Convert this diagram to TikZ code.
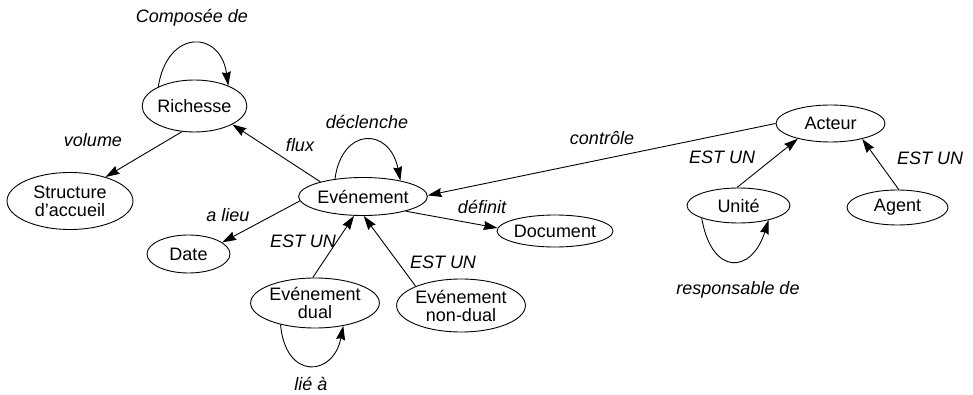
\documentclass[tikz,border=0pt]{standalone}
\usepackage{fontspec}
\setmainfont{Liberation Sans}
\usetikzlibrary{shapes.geometric,arrows.meta}
\begin{document}
\begin{tikzpicture}[x=1pt,y=-1pt,
  ent/.style={draw,ellipse,line width=0.9pt,inner sep=0pt,align=center,font=\fontsize{18}{18}\selectfont},
  lbl/.style={font=\fontsize{18}{20}\selectfont\itshape,inner sep=0pt},
  rel/.style={line width=0.9pt,-{Stealth[length=14pt,width=9pt,inset=1.5pt]}}]
\useasboundingbox (0,0) rectangle (973,395);
% entities
\node[ent,minimum width=103pt,minimum height=52pt] (rich) at (194.5,106) {Richesse};
\node[ent,minimum width=126pt,minimum height=57pt] (struct) at (70,201) {Structure\\d’accueil};
\node[ent,minimum width=83pt,minimum height=38pt] (date) at (188.5,254) {Date};
\node[ent,minimum width=120pt,minimum height=38pt] (even) at (363,196.5) {Evénement};
\node[ent,minimum width=120pt,minimum height=50pt] (dual) at (315,303) {Evénement\\dual};
\node[ent,minimum width=118pt,minimum height=53pt] (nondual) at (461,305.5) {Evénement\\non-dual};
\node[ent,minimum width=110pt,minimum height=32pt] (doc) at (555,231) {Document};
\node[ent,minimum width=109pt,minimum height=37pt] (acteur) at (830.5,123.5) {Acteur};
\node[ent,minimum width=103pt,minimum height=35pt] (unite) at (738.5,205.5) {Unité};
\node[ent,minimum width=101pt,minimum height=35pt] (agent) at (897.5,207.5) {Agent};
% labels
\node[lbl] (l1) at (192,18) {Composée de};
\node[lbl] (l2) at (93,140) {volume};
\node[lbl] (l3) at (300,145) {flux};
\node[lbl] (l4) at (367,122) {déclenche};
\node[lbl] (l5) at (228,215) {a lieu};
\node[lbl] (l6) at (303,241) {EST UN};
\node[lbl] (l7) at (443,262) {EST UN};
\node[lbl] (l8) at (482,207) {définit};
\node[lbl] (l9) at (311,384) {lié à};
\node[lbl] (l10) at (602,138) {contrôle};
\node[lbl] (l11) at (722,157) {EST UN};
\node[lbl] (l12) at (930,158) {EST UN};
\node[lbl] (l13) at (738,290) {responsable de};
% connectors
\draw[rel] (rich.152) .. controls +(9,-58) and +(-8,-56) .. (rich.31);
\draw[rel] (rich.-116) -- (struct.34);
\draw[rel] (even.161) -- (rich.-26);
\draw[rel] (even.148) .. controls +(7,-52) and +(-11,-54) .. (even.23);
\draw[rel] (even.-176) -- (date.19);
\draw[rel] (dual.95) -- (even.-115);
\draw[rel] (nondual.157) -- (even.-88);
\draw[rel] (even.-19) -- (doc.177);
\draw[rel] (dual.-148) .. controls +(5,56) and +(-10,51) .. (dual.-39);
\draw[rel] (acteur.180) -- (even.1);
\draw[rel] (unite.95) -- (acteur.-155);
\draw[rel] (agent.86) -- (acteur.-26);
\draw[rel] (unite.-161) .. controls +(10,58) and +(-17,54) .. (unite.-26);
\end{tikzpicture}
\end{document}
